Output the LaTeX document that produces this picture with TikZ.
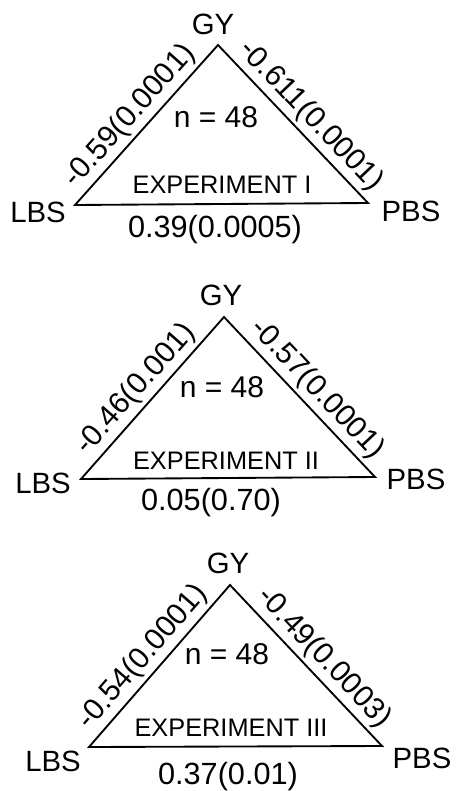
\documentclass[tikz,border=0pt]{standalone}
\usepackage{fontspec}
\setmainfont{Liberation Sans}
\usetikzlibrary{positioning}

\begin{document}
\begin{tikzpicture}[
    x=0.75pt, y=-0.75pt,
    edge/.style={line width=1.4pt, line join=miter},
    vertex/.style={font=\fontsize{22}{24}\selectfont, inner sep=0pt},
    count/.style={font=\fontsize{22.5}{24}\selectfont, inner sep=0pt},
    expname/.style={font=\fontsize{19}{21}\selectfont, inner sep=0pt},
    corr/.style={sloped, above, font=\fontsize{22.5}{24}\selectfont, inner sep=2.5pt},
    bcorr/.style={font=\fontsize{23}{25}\selectfont, inner sep=0pt}
]
\useasboundingbox (0,0) rectangle (456,791);

% === Experiment I ===
\coordinate (gy1) at (218,45);
\coordinate (lbs1) at (75,205);
\coordinate (pbs1) at (368,203);

\node[vertex] (gyt1) at (213,24) {GY};
\node[vertex] (lbst1) at (38,212) {LBS};
\node[vertex] (pbst1) at (411,211) {PBS};
\node[count] (n1) at (216,117) {n = 48};
\node[expname] (exp1) at (222,185) {EXPERIMENT I};

\draw[edge] (lbs1) -- node[corr, pos=0.48] (c1a) {-0.59(0.0001)} (gy1)
    -- node[corr, pos=0.53] (c1b) {-0.611(0.0001)} (pbs1) -- cycle;
\node[bcorr] (c1c) at (215,230) {0.39(0.0005)};

% === Experiment II ===
\coordinate (gy2) at (224,317);
\coordinate (lbs2) at (81,479);
\coordinate (pbs2) at (375,477);

\node[vertex] (gyt2) at (221,295) {GY};
\node[vertex] (lbst2) at (43,483) {LBS};
\node[vertex] (pbst2) at (416,479) {PBS};
\node[count] (n2) at (222,387) {n = 48};
\node[expname] (exp2) at (226,461) {EXPERIMENT II};

\draw[edge] (lbs2) -- node[corr, pos=0.48] (c2a) {-0.46(0.001)} (gy2)
    -- node[corr, pos=0.53] (c2b) {-0.57(0.0001)} (pbs2) -- cycle;
\node[bcorr] (c2c) at (211,503) {0.05(0.70)};

% === Experiment III ===
\coordinate (gy3) at (230,585);
\coordinate (lbs3) at (89,747);
\coordinate (pbs3) at (382,746);

\node[vertex] (gyt3) at (228,563) {GY};
\node[vertex] (lbst3) at (53,761) {LBS};
\node[vertex] (pbst3) at (422,758) {PBS};
\node[count] (n3) at (227,654) {n = 48};
\node[expname] (exp3) at (231,728) {EXPERIMENT III};

\draw[edge] (lbs3) -- node[corr, pos=0.48] (c3a) {-0.54(0.0001)} (gy3)
    -- node[corr, pos=0.53] (c3b) {-0.49(0.0003)} (pbs3) -- cycle;
\node[bcorr] (c3c) at (228,777) {0.37(0.01)};

\end{tikzpicture}
\end{document}
